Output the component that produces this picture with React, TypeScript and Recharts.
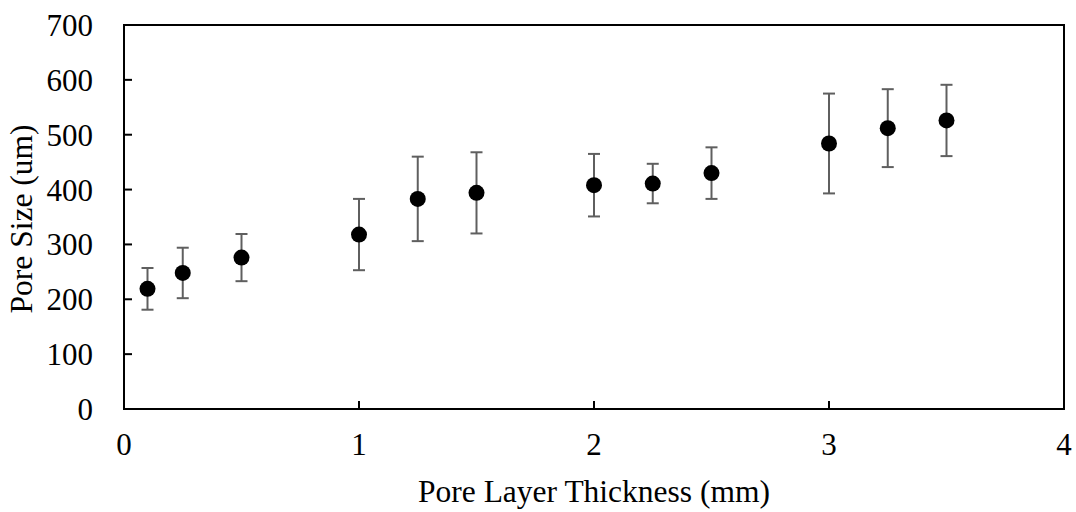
import {
  ScatterChart,
  Scatter,
  XAxis,
  YAxis,
  ErrorBar,
  ReferenceArea,
  Label,
} from 'recharts';

const thickness = [0.1, 0.25, 0.5, 1, 1.25, 1.5, 2, 2.25, 2.5, 3, 3.25, 3.5];
const poreSize = [219, 248, 276, 318, 383, 394, 408, 411, 430, 484, 512, 526];
const poreErr = [38, 46, 43, 65, 77, 74, 57, 36, 47, 91, 71, 65];

const xTicks = [0, 1, 2, 3, 4];
const yTicks = [0, 100, 200, 300, 400, 500, 600, 700];

const FONT = '"Liberation Serif", "Times New Roman", serif';

const data = thickness.map((t, i) => ({
  thickness: t,
  size: poreSize[i],
  err: poreErr[i],
}));

function Dot(props: any) {
  return <circle cx={props.cx} cy={props.cy} r={8} fill="#000" />;
}

export default function App() {
  return (
    <div style={{ position: 'absolute', left: 0, top: 0, width: 1076, height: 512, background: '#fff' }}>
      <ScatterChart
        width={1076}
        height={512}
        margin={{ top: 25, right: 12, bottom: 0, left: 0 }}
        style={{ fontFamily: FONT }}
      >
        <XAxis
          type="number"
          dataKey="thickness"
          domain={[0, 4]}
          ticks={xTicks}
          height={103}
          axisLine={{ stroke: '#000', strokeWidth: 2 }}
          tickLine={{ stroke: '#000', strokeWidth: 2 }}
          tickSize={-8}
          tickMargin={32}
          tick={{ fill: '#000', fontSize: 31, fontFamily: FONT }}
        >
          <Label
            content={({ viewBox }: any) => (
              <text
                x={viewBox.x + viewBox.width / 2}
                y={502}
                textAnchor="middle"
                fontSize={31.5}
                fontFamily={FONT}
                fill="#000"
              >
                Pore Layer Thickness (mm)
              </text>
            )}
          />
        </XAxis>
        <YAxis
          type="number"
          dataKey="size"
          domain={[0, 700]}
          ticks={yTicks}
          width={124}
          axisLine={{ stroke: '#000', strokeWidth: 2 }}
          tickLine={{ stroke: '#000', strokeWidth: 2 }}
          tickSize={-8}
          tickMargin={39}
          tick={{ fill: '#000', fontSize: 31, fontFamily: FONT }}
        >
          <Label
            content={({ viewBox }: any) => {
              const cx = 32;
              const cy = viewBox.y + viewBox.height / 2 + 2;
              return (
                <text
                  x={cx}
                  y={cy}
                  transform={`rotate(-90 ${cx} ${cy})`}
                  textAnchor="middle"
                  fontSize={31.5}
                  fontFamily={FONT}
                  fill="#000"
                >
                  Pore Size (um)
                </text>
              );
            }}
          />
        </YAxis>
        <ReferenceArea
          x1={0}
          x2={4}
          y1={0}
          y2={700}
          fill="none"
          stroke="#000"
          strokeWidth={2}
          ifOverflow="visible"
        />
        <Scatter data={data} fill="#000" shape={Dot} isAnimationActive={false}>
          <ErrorBar dataKey="err" direction="y" width={6} stroke="#5f5f5f" strokeWidth={2} />
        </Scatter>
      </ScatterChart>
    </div>
  );
}
